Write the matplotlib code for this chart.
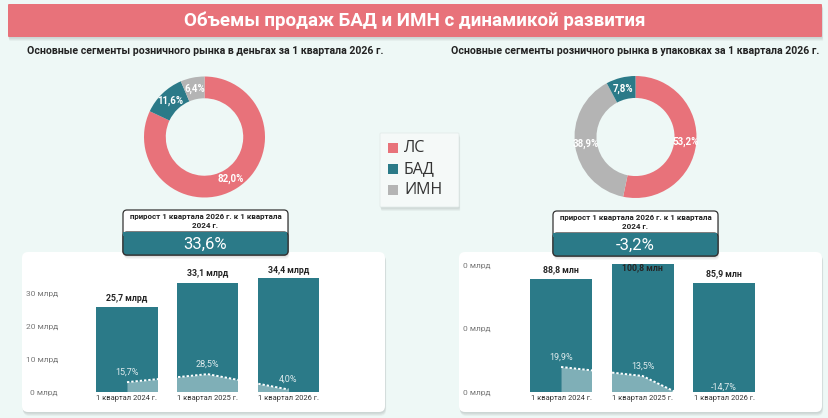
import matplotlib
matplotlib.use("Agg")
import matplotlib.pyplot as plt
from matplotlib.patches import FancyBboxPatch, Rectangle

# ---------------- data ----------------
title = "Объемы продаж БАД и ИМН с динамикой развития"
sub_left = "Основные сегменты розничного рынка в деньгах за 1 квартала 2026 г."
sub_right = "Основные сегменты розничного рынка в упаковках за 1 квартала 2026 г."

legend_labels = ["ЛС", "БАД", "ИМН"]

pie_left_labels = ["ЛС", "БАД", "ИМН"]
pie_left_values = [82.0, 11.6, 6.4]
pie_right_labels = ["ЛС", "ИМН", "БАД"]
pie_right_values = [53.2, 38.9, 7.8]

kpi_caption = "прирост 1 квартала 2026 г. к 1 квартала\n2024 г."
kpi_left = "33,6%"
kpi_right = "-3,2%"

periods = ["1 квартал 2024 г.", "1 квартал 2025 г.", "1 квартал 2026 г."]
money_bln = [25.7, 33.1, 34.4]
money_growth = [15.7, 28.5, 4.0]
packs_mln = [88.8, 100.8, 85.9]
packs_growth = [19.9, 13.5, -14.7]

# ---------------- style ----------------
RED = "#E8727A"
TEAL = "#2B7A88"
GREY = "#B4B4B4"
BG = "#EEF8F6"
colors = {"ЛС": RED, "БАД": TEAL, "ИМН": GREY}

W, H = 829, 418
fig = plt.figure(figsize=(W / 100, H / 100), dpi=100)
fig.patch.set_facecolor(BG)
plt.rcParams['font.family'] = ['Roboto', 'DejaVu Sans']


def fax(x0, y0, x1, y1, **kw):
    return fig.add_axes([x0 / W, 1 - y1 / H, (x1 - x0) / W, (y1 - y0) / H], **kw)


bg = fax(0, 0, W, H)
bg.set_xlim(0, W)
bg.set_ylim(H, 0)
bg.axis("off")
bg.set_zorder(0)


def box(x0, y0, x1, y1, fc, ec="none", lw=0, r=4, shadow=True, z=1):
    if shadow:
        for i, a in enumerate([0.05, 0.05, 0.04]):
            d = 1.5 + i * 1.2
            bg.add_patch(FancyBboxPatch((x0 + d * 0.3, y0 + d), x1 - x0, y1 - y0,
                                        boxstyle=f"round,pad=0,rounding_size={r}",
                                        fc="black", ec="none", alpha=a, zorder=z - 0.5))
    p = FancyBboxPatch((x0, y0), x1 - x0, y1 - y0,
                       boxstyle=f"round,pad=0,rounding_size={r}",
                       fc=fc, ec=ec, lw=lw, zorder=z)
    bg.add_patch(p)
    return p


# title banner
box(8, 4, 822, 37, RED, r=1, shadow=True)
bg.text(415, 21, title, color="white", fontsize=13.5, fontweight="bold",
        ha="center", va="center", zorder=5)

# subtitles
bg.text(205, 51, sub_left, fontsize=7.6, fontweight="bold", color="#222222",
        ha="center", va="center")
bg.text(635, 51, sub_right, fontsize=7.6, fontweight="bold", color="#222222",
        ha="center", va="center")


# donuts
def donut(cx, cy, r, labels, values):
    ax = fax(cx - r, cy - r, cx + r, cy + r)
    ax.set_zorder(3)
    wedges, _, autotexts = ax.pie(values, colors=[colors[l] for l in labels],
                                  startangle=90, counterclock=False, radius=1,
                                  wedgeprops=dict(width=0.36, edgecolor="none"),
                                  autopct=lambda p: "", pctdistance=0.82)
    for t, v in zip(autotexts, values):
        t.set_text(f"{v:.1f}".replace(".", ",") + "%")
        t.set_color("white")
        t.set_fontsize(7)
        t.set_fontweight("bold")
    ax.set_xlim(-1, 1)
    ax.set_ylim(-1, 1)
    ax.set_aspect("equal")
    ax.axis("off")


donut(204.5, 137, 60.5, pie_left_labels, pie_left_values)
donut(635.5, 137, 61, pie_right_labels, pie_right_values)

# legend
box(380, 133, 459, 207, "#F5F9F8", ec="#E4ECEA", lw=0.6, r=1, shadow=True, z=2)
for i, lab in enumerate(legend_labels):
    yy = 148 + i * 21
    bg.add_patch(Rectangle((388, yy - 5), 10, 10, fc=colors[lab], ec="none", zorder=3))
    bg.text(404, yy + 0.5, lab, fontsize=11.5, color="#333333", ha="left", va="center",
            family=["Open Sans", "DejaVu Sans"], zorder=3)

# bar panels
box(22, 252, 385, 412, "white", r=6, shadow=True, z=1)
box(459, 252, 822, 412, "white", r=6, shadow=True, z=1)


# KPI boxes
def kpi(x0, y0, x1, y1, ysplit, value):
    box(x0, y0, x1, y1, "white", ec="#333333", lw=0.9, r=4, shadow=True, z=6)
    bg.add_patch(FancyBboxPatch((x0, ysplit), x1 - x0, y1 - ysplit,
                                boxstyle="round,pad=0,rounding_size=4",
                                fc=TEAL, ec="#333333", lw=0.9, zorder=6.5))
    bg.add_patch(Rectangle((x0 + 0.5, ysplit), x1 - x0 - 1, 4, fc=TEAL, ec="none", zorder=6.6))
    bg.text((x0 + x1) / 2, (y0 + ysplit) / 2, kpi_caption, fontsize=5.8,
            fontweight="bold", color="#222222", ha="center", va="center",
            linespacing=1.3, zorder=7)
    bg.text((x0 + x1) / 2, (ysplit + y1) / 2 + 0.5, value, fontsize=12,
            color="white", ha="center", va="center", zorder=7)


kpi(123, 210, 288, 255, 232, kpi_left)
kpi(553, 211, 718, 256, 233, kpi_right)


def px_to_data(ax, px):
    y0 = ax.transData.inverted().transform((0, 0))[1]
    y1 = ax.transData.inverted().transform((0, px))[1]
    return y1 - y0


def bar_chart(x_left, x_right, y_top, y_base, values, ymax, yticks, fmt_tick,
              fmt_val, growth, g_lim, tick_pad):
    ax = fax(x_left, y_top, x_right, y_base)
    ax.set_zorder(3)
    ax.patch.set_alpha(0)
    x = list(range(len(values)))
    ax.bar(x, values, width=0.76, color=TEAL, zorder=2)
    ax.set_xlim(-0.5, len(values) - 0.5)
    ax.set_ylim(0, ymax)
    for s in ax.spines.values():
        s.set_visible(False)
    ax.set_yticks(yticks)
    ax.set_yticklabels([fmt_tick(v) for v in yticks])
    ax.tick_params(axis="y", length=0, pad=tick_pad, labelsize=6, labelcolor="#777777")
    ax.set_xticks(x)
    ax.set_xticklabels(periods)
    ax.tick_params(axis="x", length=0, pad=2, labelsize=5.4, labelcolor="#333333")
    fig.canvas.draw()
    d9 = px_to_data(ax, 9)
    d4 = px_to_data(ax, 4)
    for xi, v in zip(x, values):
        yl = min(v + d9, ymax - d4)
        ax.text(xi, yl, fmt_val(v), ha="center", va="center", fontsize=6.3,
                fontweight="bold", color="#252525", zorder=5, clip_on=False)

    tw = ax.twinx()
    tw.set_zorder(4)
    tw.patch.set_alpha(0)
    tw.set_ylim(*g_lim)
    tw.axis("off")
    tw.fill_between(x, growth, g_lim[0], color="white", alpha=0.4, lw=0, zorder=2)
    tw.plot(x, growth, color="white", lw=1.4, ls=(0, (1.2, 1.0)), zorder=3)
    fig.canvas.draw()
    g10 = px_to_data(tw, 10)
    g5 = px_to_data(tw, 5)
    for xi, g in zip(x, growth):
        yl = g + g10 if g > g_lim[0] else g_lim[0] + g5
        tw.text(xi, yl, f"{g:.1f}".replace(".", ",") + "%", ha="center", va="center",
                fontsize=6.5, color="white", alpha=0.85, zorder=5)
    return ax


bar_chart(86.6, 328.9, 392 - 38 * 3.3, 392, money_bln, 38, [0, 10, 20, 30],
          lambda v: f"{v:.0f} млрд", lambda v: f"{v:.1f}".replace(".", ",") + " млрд",
          money_growth, (0, 200), 20.7)

bar_chart(520.3, 764.8, 392 - 101 * 1.27, 392, packs_mln, 101, [0, 50, 100],
          lambda v: f"{v / 1000:.0f} млрд", lambda v: f"{v:.1f}".replace(".", ",") + " млн",
          packs_growth, (2.1, 93.3), 21.6)

fig.savefig("out.png", dpi=100, facecolor=BG)
